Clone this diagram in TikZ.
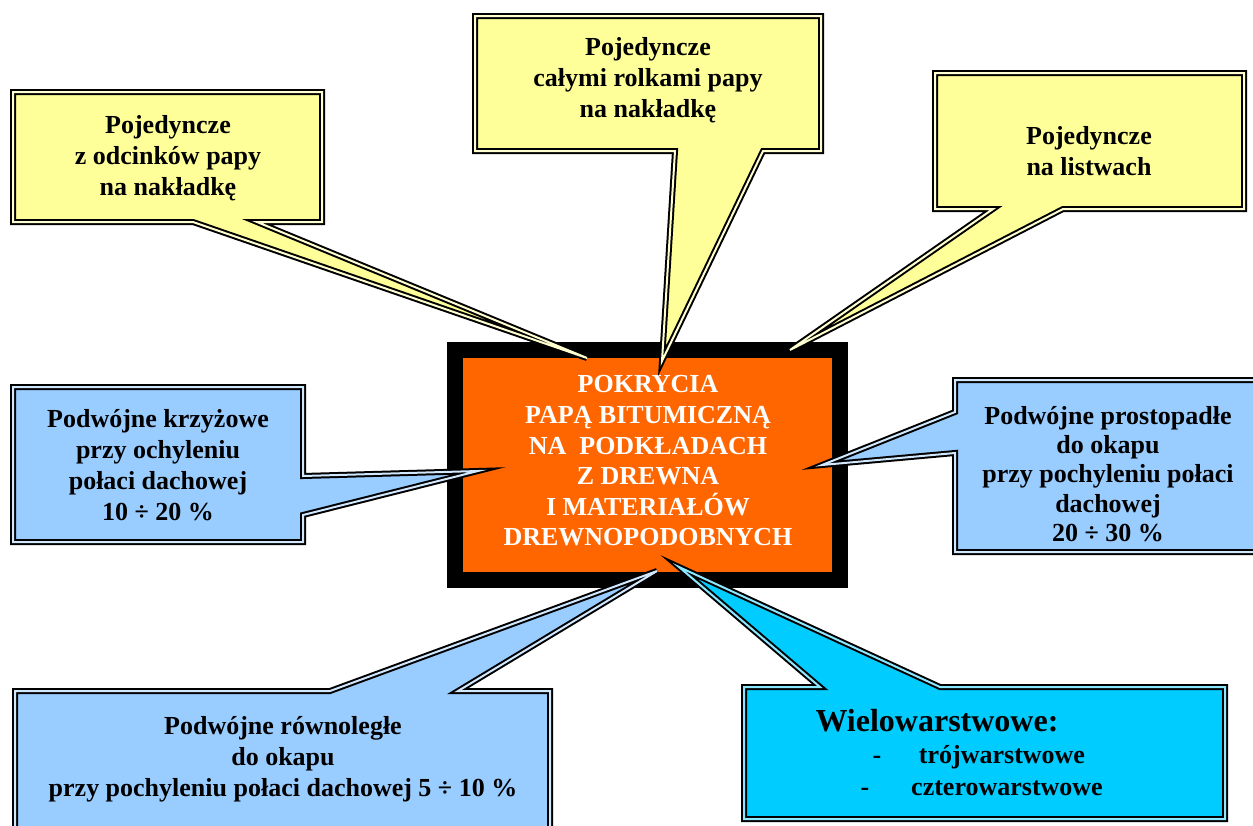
\documentclass[tikz,border=0pt]{standalone}
\usepackage{fontspec}
\setmainfont{Liberation Serif}
\definecolor{paleyellow}{HTML}{FFFF99}
\definecolor{paleblue}{HTML}{99CCFF}
\definecolor{skyblue}{HTML}{00CCFF}
\definecolor{coreorange}{HTML}{FF6600}
\tikzset{
  bubble/.style={fill=#1, draw=black, line width=6pt, line join=miter,
    postaction={draw=#1!45!white, line width=2pt}},
  txt/.style={inner sep=0pt, align=center, font=\fontsize{26}{31}\selectfont\bfseries},
  bigtxt/.style={inner sep=0pt, align=center, font=\fontsize{32}{38}\selectfont\bfseries},
}
\begin{document}
\begin{tikzpicture}[x=1pt,y=-1pt]
\useasboundingbox (0,0) rectangle (1253,825);
\clip (0,0) rectangle (1253,825);

% central box
\node[draw=black, line width=16pt, fill=coreorange, minimum width=384.5pt,
      minimum height=230pt, inner sep=0pt] (core) at (647.25,465) {};
\node[txt, text=white, font=\fontsize{26}{30.6}\selectfont\bfseries] (coretext) at (648,461)
  {POKRYCIA\\PAPĄ BITUMICZNĄ\\NA\ \ PODKŁADACH\\Z DREWNA\\I MATERIAŁÓW\\DREWNOPODOBNYCH};

% pointer tips
\coordinate (tipA) at (587,358);
\coordinate (tipB) at (662,361);
\coordinate (tipC) at (790,350);
\coordinate (tipD) at (478,471);
\coordinate (tipE) at (822,465);
\coordinate (tipF) at (657,571);
\coordinate (tipG) at (679,567);

% callouts
\draw[bubble=paleyellow] (13,92) -- (322,92) -- (322,222) -- (257,222) -- (tipA)
  -- (193,222) -- (13,222) -- cycle;
\draw[bubble=paleyellow] (475,16) -- (821,16) -- (821,151) -- (763,151) -- (tipB)
  -- (675,151) -- (475,151) -- cycle;
\draw[bubble=paleyellow] (935,73) -- (1244,73) -- (1244,209) -- (1063,209) -- (tipC)
  -- (993,209) -- (935,209) -- cycle;
\draw[bubble=paleblue] (13,387) -- (303,387) -- (303,476) -- (tipD) -- (303,515)
  -- (303,542) -- (13,542) -- cycle;
\draw[bubble=paleblue] (955,380) -- (1262,380) -- (1262,552) -- (955,552) -- (955,453)
  -- (tipE) -- (955,412) -- cycle;
\draw[bubble=paleblue] (15,840) -- (15,691) -- (330,691) -- (tipF) -- (458,691)
  -- (550,691) -- (550,840);
\draw[bubble=skyblue] (744,687) -- (820,687) -- (tipG) -- (940,687) -- (1225,687)
  -- (1225,819) -- (744,819) -- cycle;

% texts
\node[txt] (t1) at (168,158) {Pojedyncze\\z odcinków papy\\na nakładkę};
\node[txt] (t2) at (648,80) {Pojedyncze\\całymi rolkami papy\\na nakładkę};
\node[txt] (t3) at (1089,151) {Pojedyncze\\na listwach};
\node[txt] (t4) at (158,465) {Podwójne krzyżowe\\przy ochyleniu\\połaci dachowej\\10 ÷ 20 \%};
\begin{scope}
  \clip (958,383) rectangle (1253,542);
  \node[txt, font=\fontsize{26}{29.3}\selectfont\bfseries] (t5) at (1108,474)
    {Podwójne prostopadłe\\do okapu\\przy pochyleniu połaci\\dachowej\\20 ÷ 30 \%};
\end{scope}
\node[txt] (t6) at (283,759) {Podwójne równoległe\\do okapu\\przy pochyleniu połaci dachowej 5 ÷ 10 \%};
\node[bigtxt, anchor=base] (t7) at (937,731) {Wielowarstwowe:};
\node[txt, anchor=base] (d1) at (877,763) {-};
\node[txt, anchor=base] (t8) at (1002,763) {trójwarstwowe};
\node[txt, anchor=base] (d2) at (865,795) {-};
\node[txt, anchor=base] (t9) at (1007,795) {czterowarstwowe};
\end{tikzpicture}
\end{document}
